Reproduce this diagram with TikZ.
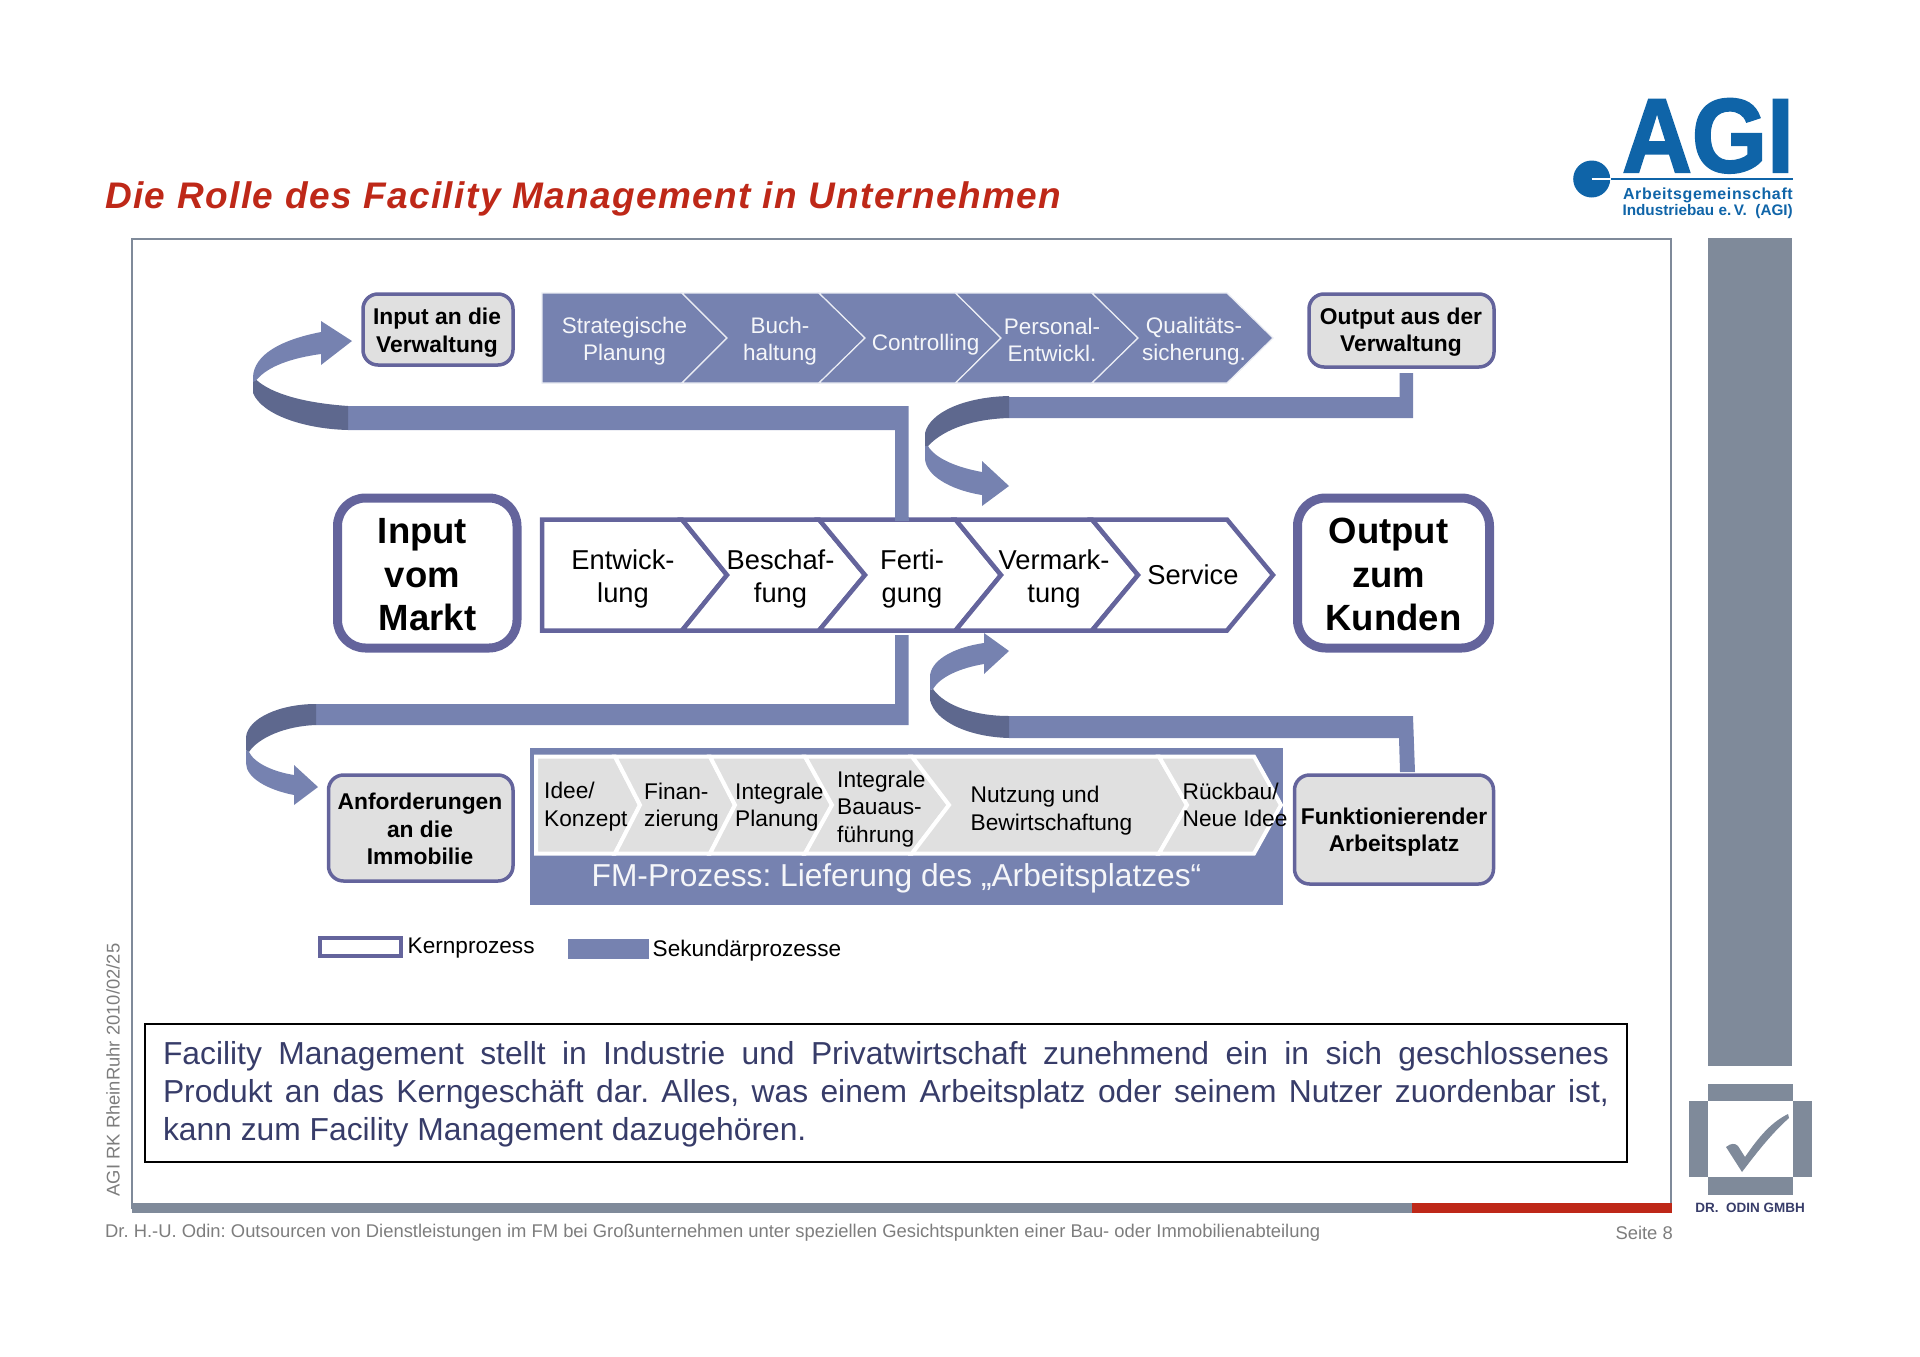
\documentclass[tikz,border=0pt]{standalone}
\usepackage{fontspec}
\setmainfont{Liberation Sans}
\newfontfamily\titlefont[LetterSpace=3.8]{Liberation Sans}
\newfontfamily\agifont[LetterSpace=4]{Liberation Sans}
\newfontfamily\agimark[FakeBold=2]{Liberation Sans Bold}
\usetikzlibrary{calc}
\definecolor{figBand}{RGB}{118,130,176}
\definecolor{figFold}{RGB}{94,104,142}
\definecolor{figEdge}{RGB}{100,100,156}
\definecolor{figGrey}{RGB}{224,224,224}
\definecolor{figSlate}{RGB}{127,138,154}
\definecolor{figRed}{RGB}{190,40,24}
\definecolor{figNavy}{RGB}{55,60,105}
\definecolor{figFoot}{RGB}{125,125,125}
\definecolor{figBlue}{RGB}{15,100,168}
\newcommand{\fs}[2]{\fontsize{#1}{#2}\selectfont}
\tikzset{
  softbox/.style={draw=figEdge,fill=figGrey,line width=3.5pt,rounded corners=15pt},
  bigbox/.style={draw=figEdge,fill=white,line width=9pt,rounded corners=28pt},
  softlabel/.style={font=\fs{22.8}{27.5}\bfseries,align=center,inner sep=0pt},
  biglabel/.style={font=\fs{36.5}{43.5}\bfseries,align=center,inner sep=0pt},
  toplabel/.style={font=\fs{22.5}{27},text=white!93!figBand,align=center,inner sep=0pt},
  midlabel/.style={font=\fs{27.3}{33},align=center,inner sep=0pt},
  fmlabel/.style={font=\fs{22.7}{27.5},align=left,inner sep=0pt},
  keylabel/.style={font=\fs{22.6}{27},anchor=west,inner sep=0pt},
  footlabel/.style={font=\fs{18.4}{23},text=figFoot,inner sep=0pt},
}
\begin{document}
\frenchspacing
\begin{tikzpicture}[x=1pt,y=-1pt]
\useasboundingbox (0,0) rectangle (1920,1357);
% page frame, side bar and rule
\draw[figSlate,line width=1.8pt] (132,239) rectangle (1671,1208);
\fill[figSlate] (1708,238) rectangle (1792,1066);
\fill[figSlate] (132,1203) rectangle (1412,1213);
\fill[figRed] (1412,1203) rectangle (1672,1213);
\node[font=\titlefont\fs{37}{44}\bfseries\itshape,text=figRed,anchor=west,inner sep=0pt] (title) at (105,199) {Die Rolle des Facility Management in Unternehmen};
% logo top right
\node[font=\agimark\fs{105}{105},text=figBlue,anchor=base,inner sep=0pt] (agi) at (1708,172) {\scalebox{0.92}[1]{AGI}};
\fill[figBlue] (1591.7,179) circle (18.5);
\draw[white,line width=2pt] (1591.7,179)--(1611,179);
\draw[figBlue,line width=2pt] (1611,179)--(1793,179);
\node[font=\agifont\fs{16}{18}\bfseries,text=figBlue,anchor=east,inner sep=0pt] (agia) at (1793,195) {Arbeitsgemeinschaft};
\node[font=\fs{15.3}{18}\bfseries,text=figBlue,anchor=east,inner sep=0pt] (agib) at (1793,212) {Industriebau e.\,V.\ \ (AGI)};
% logo bottom right
\fill[figSlate] (1708,1084) rectangle (1793,1101);
\fill[figSlate] (1689,1101) rectangle (1708,1177);
\fill[figSlate] (1793,1101) rectangle (1812,1177);
\fill[figSlate] (1708,1177) rectangle (1793,1195);
\fill[figSlate] (1726,1147) .. controls (1731,1143) and (1735,1143) .. (1738,1146) -- (1745,1157) .. controls (1760,1135) and (1772,1122) .. (1788,1114) -- (1789,1118) .. controls (1770,1135) and (1755,1155) .. (1742,1172) -- cycle;
\node[font=\fs{13.5}{17}\bfseries,text=figNavy,inner sep=0pt] (odin) at (1750,1208) {DR.\ \ ODIN GMBH};
% secondary processes top row
\foreach \xa/\xb/\ta/\tb in {542/682/542/727,682/819/727/865,819/955.5/865/1001,955.5/1092/1001/1138,1092/1227/1138/1273}
  \draw[fill=figBand,draw=white!85!figBand,line width=1.2pt] (\xa,293)--(\xb,293)--(\tb,338)--(\xb,383)--(\xa,383)--(\ta,338)--cycle;
\node[toplabel] (strat) at (624.5,341.5) {Strategische\\Planung};
\node[toplabel] (buch) at (780,341.5) {Buch-\\haltung};
\node[toplabel] (contr) at (925.7,344.5) {Controlling};
\node[toplabel] (pers) at (1052,340) {Personal-\\Entwickl.};
\node[toplabel] (qual) at (1194,341) {Qualitäts-\\sicherung.};
% boxes
\draw[softbox] (363,294) rectangle (513,365);
\node[softlabel] (inv) at (437,332.5) {Input an die\\Verwaltung};
\draw[softbox] (1309,294) rectangle (1494,367);
\node[softlabel] (outv) at (1401,332) {Output aus der\\Verwaltung};
\draw[bigbox] (337.5,498) rectangle (517,648);
\node[biglabel] (inm) at (427.5,575) {\hbox{Input\kern10pt}\\\hbox{vom\kern10pt}\\Markt};
\draw[bigbox] (1297.5,498) rectangle (1489.5,648);
\node[biglabel] (outk) at (1393.5,574.5) {\hbox{Output\kern10pt}\\\hbox{zum\kern10pt}\\Kunden};
\draw[softbox] (328.5,775) rectangle (513,881);
\node[softlabel] (anf) at (420,829) {Anforderungen\\an die\\Immobilie};
\draw[softbox] (1294.5,775) rectangle (1493.5,884);
\node[softlabel] (funk) at (1394,832) {Funktionierender\\Arbeitsplatz};
% bars and swoops, top left
\fill[figBand] (348,406)--(908.6,406)--(908.6,519)--(895,519)--(895,430)--(348,430)--cycle;
\fill[figFold] (348,406) .. controls (305,403) and (272,394) .. (256.5,380) -- (253,381) -- (253,393) .. controls (262,415) and (305,429) .. (348,430) -- cycle;
\fill[figBand] (253,382) -- (253,377) .. controls (254,355) and (280,340) .. (321,332) -- (321,321) -- (352,341) -- (321,365) -- (321,354) .. controls (292,358) and (268,366) .. (256.5,380) -- cycle;
% top right
\fill[figBand] (1009,397)--(1399.5,397)--(1399.5,373)--(1413,373)--(1413,418)--(1009,418)--cycle;
\fill[figFold] (1009,396) .. controls (965,397) and (930,412) .. (925,433) -- (925,449) -- (928,446) .. controls (945,428) and (975,419) .. (1009,418) -- cycle;
\fill[figBand] (928,446) .. controls (935,458) and (955,467) .. (982,472) -- (982,461) -- (1009,486) -- (982,506) -- (982,495) .. controls (950,490) and (925,475) .. (925,458) -- (925,446) -- cycle;
% bottom left
\fill[figBand] (316,704)--(895,704)--(895,635)--(908.6,635)--(908.6,725)--(316,725)--cycle;
\fill[figFold] (316,704) .. controls (280,704) and (248,718) .. (246,737) -- (246,750) -- (249,752) .. controls (258,738) and (285,726) .. (316,725) -- cycle;
\fill[figBand] (249,752) .. controls (255,764) and (275,772) .. (294,775) -- (294,765) -- (318,787) -- (294,805) -- (294,795) .. controls (268,790) and (246,778) .. (246,763) -- (246,750) -- cycle;
% bottom right
\fill[figBand] (1009,716)--(1413,716)--(1415,772)--(1400,772)--(1399,738)--(1009,738)--cycle;
\fill[figFold] (1009,716) .. controls (975,716) and (945,706) .. (933,689) -- (930,690) -- (930,700) .. controls (935,722) and (970,737) .. (1009,738) -- cycle;
\fill[figBand] (933,689) .. controls (940,677) and (960,668) .. (984,664) -- (984,674) -- (1009,651) -- (984,633) -- (984,643) .. controls (950,648) and (930,662) .. (930,677) -- (930,690) -- cycle;
% core processes
\foreach \xa/\xb/\ta/\tb in {542/682/542/727,682/819/727/865,819/955.5/865/1001,955.5/1092/1001/1138,1092/1227/1138/1273}
  \draw[fill=white,draw=figEdge,line width=4.5pt] (\xa,519.5)--(\xb,519.5)--(\tb,575)--(\xb,630.5)--(\xa,630.5)--(\ta,575)--cycle;
\fill[figBand] (895,517) rectangle (908.6,521);
\node[midlabel] (entw) at (623,578.5) {Entwick-\\lung};
\node[midlabel] (besch) at (780.5,578.5) {Beschaf-\\fung};
\node[midlabel] (fert) at (912,578.5) {Ferti-\\gung};
\node[midlabel] (verm) at (1054,578.5) {Vermark-\\tung};
\node[midlabel] (serv) at (1193,575) {Service};
% FM band
\fill[figBand] (529.5,748) rectangle (1283,905);
\foreach \xa/\xb/\ta/\tb in {536/615/536/640,615/710/640/735,710/805/735/832,805/912/832/949,912/1159/949/1187,1159/1254/1187/1281}
  \draw[fill=figGrey,draw=white,line width=4pt] (\xa,756.5)--(\xb,756.5)--(\tb,805)--(\xb,853.5)--(\xa,853.5)--(\ta,805)--cycle;
\node[fmlabel,anchor=west] (idee) at (544,806.5) {Idee/\\Konzept};
\node[fmlabel,anchor=west] (fin) at (644,807) {Finan-\\zierung};
\node[fmlabel,anchor=west] (ipl) at (735,807) {Integrale\\Planung};
\node[fmlabel,anchor=west] (ibau) at (837,809) {Integrale\\Bauaus-\\führung};
\node[fmlabel,anchor=west] (nutz) at (970.5,810.5) {Nutzung und\\Bewirtschaftung};
\node[fmlabel,anchor=west] (rueck) at (1182.5,805) {Rückbau/\\Neue Idee};
\node[font=\fs{31.7}{37},text=white!93!figBand,inner sep=0pt] (fmtitle) at (896.5,878) {FM-Prozess: Lieferung des „Arbeitsplatzes“};
% key
\draw[fill=white,draw=figEdge,line width=4pt] (320,938) rectangle (400.5,956);
\node[keylabel] (kern) at (407.5,948.5) {Kernprozess};
\fill[figBand] (568,939) rectangle (649,959);
\node[keylabel] (sek) at (652.5,951) {Sekundärprozesse};
% statement
\draw[black,line width=2pt] (144.5,1024) rectangle (1627,1162);
\node[font=\fs{31.8}{38},text=figNavy,text width=1446pt,align=justify,inner sep=0pt,anchor=center] (stmt) at (886,1094.5) {Facility Management stellt in Industrie und Privatwirtschaft zunehmend ein in sich geschlossenes\linebreak Produkt an das Kerngeschäft dar. Alles, was einem Arbeitsplatz oder seinem Nutzer zuordenbar ist,\linebreak kann zum Facility Management dazugehören.};
% footer
\node[footlabel,anchor=west] (foot) at (105,1233) {Dr. H.-U. Odin: Outsourcen von Dienstleistungen im FM bei Großunternehmen unter speziellen Gesichtspunkten einer Bau- oder Immobilienabteilung};
\node[footlabel,anchor=east] (page) at (1673,1232.5) {Seite 8};
\node[footlabel,rotate=90] (stamp) at (113,1070) {AGI RK RheinRuhr 2010/02/25};
\end{tikzpicture}
\end{document}
